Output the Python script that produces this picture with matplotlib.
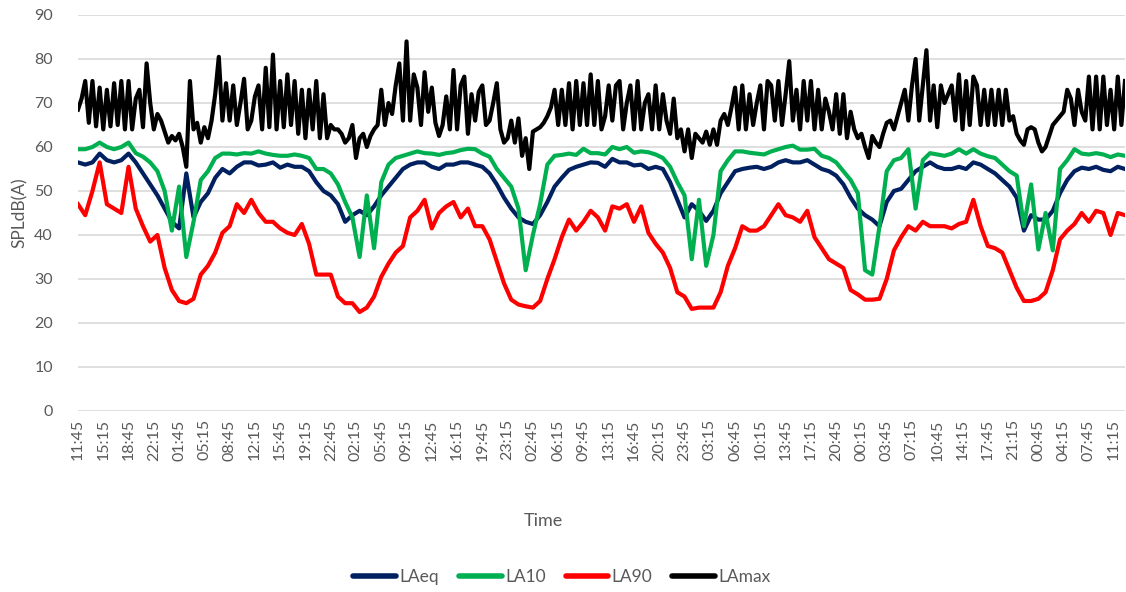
import numpy as np
import matplotlib
matplotlib.use("Agg")
import matplotlib.pyplot as plt

# ---------------- data (hourly samples, LAmax half-hourly) ----------------
laeq = [
    56.5, 56, 56.5, 58.5, 57, 56.5, 57, 58.5, 56.5, 54, 51.5, 49, 46, 43, 41.5, 54, 44, 47.5, 49.5, 53, 55, 54, 55.5, 56.5,
    56.5, 55.8, 56, 56.5, 55.3, 56, 55.5, 55.5, 54.5, 52, 50, 49, 47, 43, 44.5, 45.5, 44.5, 46.5, 49, 51, 53, 55, 56, 56.5,
    56.5, 55.5, 55, 56, 56, 56.5, 56.5, 56, 55.5, 54, 51.5, 48.5, 46, 44, 43, 42.5, 44.5, 47.5, 51, 53, 54.8, 55.5, 56, 56.5,
    56.4, 55.5, 57.3, 56.5, 56.5, 55.8, 56, 55, 55.5, 55, 52, 48, 44, 47, 45.5, 43.2, 45.5, 49.5, 52, 54.5, 55, 55.3, 55.5, 55,
    55.5, 56.5, 57, 56.5, 56.5, 57, 56, 55, 54.5, 53.5, 51.5, 48.5, 46, 44.5, 43.5, 42, 47.5, 50, 50.5, 52.5, 54.5, 55.5, 56.5, 55.5,
    55, 55, 55.5, 55, 56.5, 56, 55, 54, 52.5, 51, 48.5, 41, 44.5, 43.5, 43.5, 45.5, 49.5, 52.5, 54.5, 55.3, 55, 55.5, 54.8, 54.5, 55.5, 55,
]
la10 = [
    59.5, 59.5, 60, 61, 60, 59.5, 60, 61, 58.6, 57.8, 56.5, 54.5, 50, 41, 51, 35, 43, 52.5, 54.5, 57.5, 58.5, 58.5, 58.3, 58.6,
    58.5, 59, 58.5, 58.2, 58, 58, 58.3, 58, 57.5, 55, 55, 54, 51.5, 47.5, 44, 35, 49, 37, 52, 56, 57.5, 58, 58.5, 59,
    58.6, 58.5, 58.2, 58.6, 58.8, 59.3, 59.6, 59.5, 58.5, 57.8, 55, 53, 51, 46, 32, 40, 47, 56, 58, 58.2, 58.5, 58.2, 59.6, 58.6,
    58.6, 58.3, 60, 59.5, 60, 58.7, 59, 58.8, 58.3, 57.5, 55.5, 52, 49, 34.5, 48, 33, 40, 54.5, 57, 59, 59, 58.7, 58.5, 58.3,
    59, 59.5, 60, 60.3, 59.4, 59.4, 59.6, 58, 57.5, 56.5, 54.5, 52.5, 49.5, 32, 31, 42, 54.5, 57, 57.5, 59.5, 46, 57, 58.6, 58.3,
    58, 58.5, 59.5, 58.5, 59.5, 58.5, 57.9, 57.5, 56, 54.5, 53.5, 42, 51.5, 36.7, 45, 36.5, 55, 57, 59.5, 58.5, 58.3, 58.6, 58.3, 57.7, 58.3, 58,
]
la90 = [
    47, 44.5, 50, 56.5, 47, 46, 45, 55.5, 46, 42, 38.5, 40, 32.5, 27.5, 25, 24.5, 25.5, 31, 33, 36, 40.5, 42, 47, 45,
    48, 45, 43, 43, 41.5, 40.5, 40, 42.5, 38, 31, 31, 31, 26, 24.5, 24.5, 22.5, 23.5, 26, 30.5, 33.5, 36, 37.5, 44, 45.5,
    48, 41.5, 45, 46.5, 47.5, 44, 46, 42, 42, 39, 34, 29, 25.3, 24.2, 23.8, 23.5, 25, 30, 34.5, 39.5, 43.5, 41, 43, 45.5,
    44, 41, 46.5, 46, 47, 43, 46.5, 40.5, 38, 36, 32.5, 27, 26, 23.2, 23.5, 23.5, 23.5, 27, 33, 37, 42, 41, 41, 42,
    44.5, 47, 44.5, 44, 43, 45.5, 39.5, 37, 34.5, 33.5, 32.5, 27.5, 26.5, 25.3, 25.3, 25.5, 30, 36.5, 39.5, 42, 41, 43, 42, 42,
    42, 41.5, 42.5, 43, 48, 42, 37.5, 37, 36, 32, 28, 25, 25, 25.5, 27, 32, 39, 41, 42.5, 45, 43, 45.5, 45, 40, 45, 44.5,
]
lamax = [
    68.5, 71, 75, 65.5, 75, 64.7, 73.5, 64, 73, 64.7, 74.5, 65, 75, 64, 75, 64, 71, 73, 64.5, 79, 70, 64, 67.5, 66,
    63.5, 61, 62.5, 61.5, 63, 60, 55.5, 75, 64, 65.5, 61, 64.5, 62, 66, 72, 80.5, 66, 74.5, 66, 74, 65, 70, 75.5, 64,
    66, 71.5, 74, 64, 78, 64.5, 81, 64, 75, 64.5, 76.5, 65, 75, 63, 73, 62, 73, 64, 75, 62, 72, 62, 65, 64,
    64, 63, 61, 62, 65, 57.5, 62, 63, 60, 62.5, 64, 65, 73, 65, 70, 67.5, 74, 79, 66, 84, 66, 76.5, 73.5, 65,
    77, 68, 73.5, 65.5, 62.5, 65, 71.5, 64, 77.5, 64, 74, 76, 63, 72, 66, 72.5, 74, 65, 66, 70, 74.5, 64, 61, 62,
    66, 61, 66.5, 58, 62, 55, 63.5, 64, 64.5, 65.5, 67, 69, 73, 65, 73, 65, 74.5, 64, 75, 65, 74.5, 65, 76.5, 65,
    75, 64, 67, 74, 66, 74, 75, 64, 70, 74, 64, 75, 64, 70, 72, 64, 74, 64, 72, 66, 63, 71, 62, 64,
    59, 64, 57.5, 63, 62, 61, 63.5, 60.5, 64, 60.5, 66, 67.5, 65, 69, 73.5, 64, 74, 64, 72, 65, 70, 74, 64, 75,
    74, 66, 75, 65, 72, 79.5, 66, 73, 64, 75, 66, 75, 64, 73, 64, 71, 68, 64, 72, 63, 72, 62, 68, 64,
    62, 63, 60, 57.5, 62.5, 61, 60, 63, 65.5, 66, 64, 67, 70, 73, 66, 74, 80, 66, 74, 82, 66, 74, 64.5, 74,
    70, 72, 74, 66, 76.5, 64, 75, 65, 76, 74, 65, 73, 65, 73, 65, 73, 65, 73, 66, 67, 63, 61.5, 60.5, 64,
    64.5, 64, 61, 59, 60, 62.5, 65, 66, 67, 68, 73, 71, 65, 73, 68, 66, 76, 64, 76, 64, 76, 65, 73, 64, 76, 65, 75,
]
tick_labels = [
    "11:45", "15:15", "18:45", "22:15", "01:45", "05:15", "08:45", "12:15", "15:45", "19:15", "22:45",
    "02:15", "05:45", "09:15", "12:45", "16:15", "19:45", "23:15", "02:45", "06:15", "09:45", "13:15",
    "16:45", "20:15", "23:45", "03:15", "06:45", "10:15", "13:45", "17:15", "20:45", "00:15", "03:45",
    "07:15", "10:45", "14:15", "17:45", "21:15", "00:45", "04:15", "07:45", "11:15",
]
series_names = ["LAeq", "LA10", "LA90", "LAmax"]
colors = ["#002060", "#00B050", "#FF0000", "#000000"]
tick_step_hours = 3.5

# ---------------- figure ----------------
plt.rcParams["font.family"] = ["Lato", "DejaVu Sans"]
W, H = 1126, 592
fig = plt.figure(figsize=(W / 100, H / 100), dpi=100)
ax = fig.add_axes([78 / W, 1 - 411 / H, (1125 - 78) / W, (411 - 15) / H])

h_hourly = np.arange(len(laeq), dtype=float)
h_half = np.arange(len(lamax)) * 0.5

lw = 3.0
ax.plot(h_hourly, laeq, color=colors[0], lw=lw, solid_joinstyle="round", label=series_names[0], zorder=3)
ax.plot(h_hourly, la10, color=colors[1], lw=lw, solid_joinstyle="round", label=series_names[1], zorder=4)
ax.plot(h_hourly, la90, color=colors[2], lw=lw, solid_joinstyle="round", label=series_names[2], zorder=5)
ax.plot(h_half, lamax, color=colors[3], lw=lw, solid_joinstyle="round", label=series_names[3], zorder=6)

ax.set_xlim(0, h_hourly[-1])
ax.set_ylim(0, 90)
ax.set_yticks(np.arange(0, 91, 10))
ax.set_xticks(np.arange(len(tick_labels)) * tick_step_hours)
ax.set_xticklabels(tick_labels, rotation=90)
ax.grid(axis="y", color="#D9D9D9", lw=1.2, zorder=0)
ax.grid(axis="x", visible=False)
for s in ax.spines.values():
    s.set_visible(False)
ax.tick_params(axis="both", length=0, colors="#595959", labelsize=11.5)
ax.tick_params(axis="y", pad=18)
ax.tick_params(axis="x", pad=6)

fig.text(20 / W, 1 - 213 / H, "SPLdB(A)", rotation=90, ha="center", va="center",
         fontsize=12.5, color="#595959")
fig.text(543 / W, 1 - 521 / H, "Time", ha="center", va="center", fontsize=13, color="#595959")

leg = fig.legend(loc="center", bbox_to_anchor=(562 / W, 1 - 577 / H), ncol=4, frameon=False,
                 fontsize=12.5, handlelength=2.45, handletextpad=0.2, columnspacing=1.15)
for line in leg.get_lines():
    line.set_linewidth(4)
    line.set_solid_capstyle("round")
for t in leg.get_texts():
    t.set_color("#595959")

fig.savefig("out.png", dpi=100)
